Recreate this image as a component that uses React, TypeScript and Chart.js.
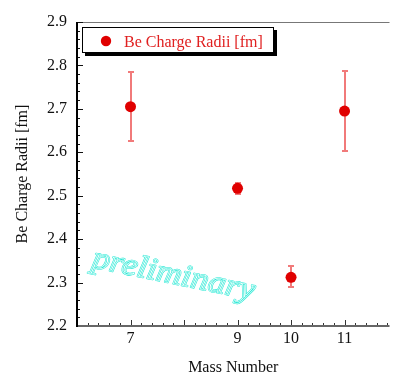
import { useEffect, useRef } from 'react';
import { Chart, registerables } from 'chart.js';
Chart.register(...registerables);

const massNumbers = [7, 9, 10, 11];
const radii = [2.705, 2.517, 2.312, 2.695];
const errLow = [2.627, 2.505, 2.289, 2.604];
const errHigh = [2.784, 2.530, 2.338, 2.787];
const xTickValues = [6, 7, 8, 9, 10, 11];
const xLabelValues = [7, 9, 10, 11];
const seriesLabel = 'Be Charge Radii [fm]';
const xTitle = 'Mass Number';
const yTitle = 'Be Charge Radii [fm]';
const watermark = 'preliminary';

const SERIF = '"Liberation Serif", "Times New Roman", serif';
const RED = '#e00000';

const customPlugin = {
  id: 'customPlugin',
  beforeDatasetsDraw(chart: any) {
    const { ctx, scales } = chart;
    const xs = scales.x, ys = scales.y;
    // watermark
    ctx.save();
    ctx.font = `italic 31px ${SERIF}`;
    const w = ctx.measureText(watermark).width;
    ctx.translate(91, 267);
    ctx.rotate(0.2);
    ctx.scale(165 / w, 1);
    ctx.lineJoin = 'round';
    ctx.strokeStyle = '#22e8d4';
    ctx.lineWidth = 1.6;
    ctx.strokeText(watermark, 0, 0);
    ctx.strokeStyle = '#ffffff';
    ctx.lineWidth = 0.55;
    ctx.strokeText(watermark, 0, 0);
    ctx.restore();
    // error bars
    ctx.save();
    ctx.strokeStyle = 'rgba(232,40,40,0.62)';
    ctx.lineWidth = 2;
    massNumbers.forEach((m, i) => {
      const x = Math.round(xs.getPixelForValue(m));
      const y1 = Math.round(ys.getPixelForValue(errHigh[i]));
      const y2 = Math.round(ys.getPixelForValue(errLow[i]));
      ctx.beginPath();
      ctx.moveTo(x, y1); ctx.lineTo(x, y2);
      ctx.moveTo(x - 3, y1); ctx.lineTo(x + 3, y1);
      ctx.moveTo(x - 3, y2); ctx.lineTo(x + 3, y2);
      ctx.stroke();
    });
    ctx.restore();
  },
  afterDraw(chart: any) {
    const { ctx, chartArea, scales } = chart;
    const { left, right, top, bottom } = chartArea;
    const xs = scales.x, ys = scales.y;
    ctx.save();
    // top border
    ctx.strokeStyle = '#777';
    ctx.lineWidth = 1;
    ctx.beginPath();
    ctx.moveTo(left, top + 0.5); ctx.lineTo(right, top + 0.5);
    ctx.stroke();
    // y ticks
    ctx.strokeStyle = '#111';
    ctx.lineWidth = 1;
    ctx.beginPath();
    for (let i = 0; i <= 35; i++) {
      const v = 2.2 + i * 0.02;
      const y = Math.round(ys.getPixelForValue(v)) + 0.5;
      const len = i % 5 === 0 ? 6 : 3;
      ctx.moveTo(left, y); ctx.lineTo(left + len, y);
    }
    ctx.stroke();
    // x ticks
    ctx.strokeStyle = '#333';
    ctx.beginPath();
    for (let i = 0; i <= 29; i++) {
      const v = 6 + i * 0.2;
      const x = Math.round(xs.getPixelForValue(v)) + 0.5;
      const len = i % 5 === 0 ? 6 : 3;
      ctx.moveTo(x, bottom); ctx.lineTo(x, bottom - len);
    }
    ctx.stroke();
    // bottom axis
    ctx.strokeStyle = '#666';
    ctx.lineWidth = 2;
    ctx.beginPath();
    ctx.moveTo(left, bottom); ctx.lineTo(right, bottom);
    ctx.stroke();
    // left axis
    ctx.strokeStyle = '#000';
    ctx.lineWidth = 2;
    ctx.beginPath();
    ctx.moveTo(left, top); ctx.lineTo(left, bottom + 1);
    ctx.stroke();
    // legend
    const bx = 82, by = 27, bw = 192, bh = 26;
    ctx.fillStyle = '#000';
    ctx.fillRect(bx + 3, by + 3, bw, bh);
    ctx.fillStyle = '#fff';
    ctx.fillRect(bx, by, bw, bh);
    ctx.strokeStyle = '#000';
    ctx.lineWidth = 1;
    ctx.strokeRect(bx + 0.5, by + 0.5, bw - 1, bh - 1);
    ctx.fillStyle = RED;
    ctx.beginPath();
    ctx.arc(106, 41, 5.2, 0, Math.PI * 2);
    ctx.fill();
    ctx.fillStyle = '#e02020';
    ctx.font = `16px ${SERIF}`;
    ctx.textBaseline = 'alphabetic';
    ctx.textAlign = 'left';
    ctx.fillText(chart.data.datasets[0].label, 124, 47);
    ctx.restore();
  },
};

export default function App() {
  const ref = useRef<HTMLCanvasElement>(null);
  useEffect(() => {
    const chart = new Chart(ref.current!, {
      type: 'scatter',
      data: {
        datasets: [
          {
            label: seriesLabel,
            data: massNumbers.map((m, i) => ({ x: m, y: radii[i] })),
            backgroundColor: RED,
            borderColor: RED,
            borderWidth: 0,
            pointRadius: 5.5,
            pointHoverRadius: 5.5,
          },
        ],
      },
      options: {
        responsive: false,
        animation: false,
        events: [],
        layout: { padding: { top: 22, left: 0, right: 0, bottom: 0 } },
        plugins: { legend: { display: false }, tooltip: { enabled: false } },
        scales: {
          x: {
            type: 'linear',
            min: 6,
            max: 11.84,
            grid: { display: false, drawTicks: false },
            border: { display: false },
            afterFit: (s: any) => { s.height = 50; },
            afterBuildTicks: (s: any) => { s.ticks = xTickValues.map((v) => ({ value: v })); },
            ticks: {
              autoSkip: false,
              maxRotation: 0,
              padding: 3,
              color: '#111',
              font: { family: SERIF, size: 16 },
              callback: (v: any) => (xLabelValues.includes(Number(v)) ? String(v) : ''),
            },
            title: {
              display: true,
              text: xTitle,
              color: '#111',
              font: { family: SERIF, size: 16, lineHeight: 1 },
              padding: { top: 0, bottom: 0 },
            },
          },
          y: {
            type: 'linear',
            min: 2.2,
            max: 2.9,
            grid: { display: false, drawTicks: false },
            border: { display: false },
            afterFit: (s: any) => { s.width = 77; },
            ticks: {
              stepSize: 0.1,
              padding: 10,
              color: '#111',
              font: { family: SERIF, size: 16 },
              callback: (v: any) => Number(v).toFixed(1),
            },
            title: {
              display: true,
              text: yTitle,
              color: '#111',
              font: { family: SERIF, size: 16, lineHeight: 1 },
              padding: { top: 15, bottom: 0 },
            },
          },
        },
      },
      plugins: [customPlugin],
    } as any);
    return () => chart.destroy();
  }, []);
  return (
    <div style={{ position: 'absolute', left: 0, top: 0, width: 395, height: 376, background: '#fff' }}>
      <canvas ref={ref} width={395} height={376} style={{ display: 'block' }} />
    </div>
  );
}
